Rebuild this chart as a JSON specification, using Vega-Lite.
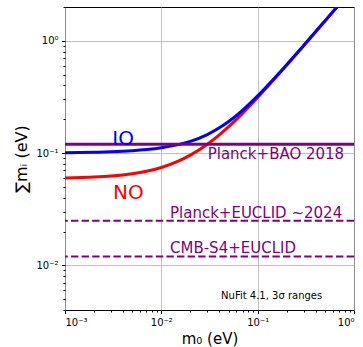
{
  "$schema": "https://vega.github.io/schema/vega-lite/v6.json",
  "autosize": "none",
  "width": 289,
  "height": 303,
  "padding": {"left": 65, "top": 7, "right": 9, "bottom": 37},
  "background": "white",
  "config": {
    "view": {"stroke": "black", "strokeWidth": 1},
    "font": "DejaVu Sans",
    "axis": {
      "labelFont": "DejaVu Sans", "labelFontSize": 10, "labelColor": "black",
      "titleFont": "DejaVu Sans", "titleFontWeight": "normal", "titleColor": "black",
      "domain": false, "tickColor": "black", "gridColor": "#b0b0b0", "gridWidth": 0.8
    }
  },
  "layer": [
    {
      "data": {"name": "curves", "values": [
        {"m0": 0.001, "sum": 0.0599, "ordering": "NO"},
        {"m0": 0.002, "sum": 0.06107, "ordering": "NO"},
        {"m0": 0.003, "sum": 0.0624, "ordering": "NO"},
        {"m0": 0.005, "sum": 0.0654, "ordering": "NO"},
        {"m0": 0.007, "sum": 0.0688, "ordering": "NO"},
        {"m0": 0.01, "sum": 0.0744, "ordering": "NO"},
        {"m0": 0.015, "sum": 0.0847, "ordering": "NO"},
        {"m0": 0.02, "sum": 0.0958, "ordering": "NO"},
        {"m0": 0.03, "sum": 0.1197, "ordering": "NO"},
        {"m0": 0.04, "sum": 0.1451, "ordering": "NO"},
        {"m0": 0.05, "sum": 0.1716, "ordering": "NO"},
        {"m0": 0.07, "sum": 0.2267, "ordering": "NO"},
        {"m0": 0.1, "sum": 0.3123, "ordering": "NO"},
        {"m0": 0.15, "sum": 0.4584, "ordering": "NO"},
        {"m0": 0.2, "sum": 0.6064, "ordering": "NO"},
        {"m0": 0.3, "sum": 0.9043, "ordering": "NO"},
        {"m0": 0.5, "sum": 1.5026, "ordering": "NO"},
        {"m0": 0.7, "sum": 2.1019, "ordering": "NO"},
        {"m0": 1.0, "sum": 3.0013, "ordering": "NO"},
        {"m0": 0.001, "sum": 0.10056, "ordering": "IO"},
        {"m0": 0.002, "sum": 0.10162, "ordering": "IO"},
        {"m0": 0.003, "sum": 0.10272, "ordering": "IO"},
        {"m0": 0.005, "sum": 0.10504, "ordering": "IO"},
        {"m0": 0.007, "sum": 0.10752, "ordering": "IO"},
        {"m0": 0.01, "sum": 0.11153, "ordering": "IO"},
        {"m0": 0.015, "sum": 0.11896, "ordering": "IO"},
        {"m0": 0.02, "sum": 0.12727, "ordering": "IO"},
        {"m0": 0.03, "sum": 0.14622, "ordering": "IO"},
        {"m0": 0.04, "sum": 0.1677, "ordering": "IO"},
        {"m0": 0.05, "sum": 0.1911, "ordering": "IO"},
        {"m0": 0.07, "sum": 0.24177, "ordering": "IO"},
        {"m0": 0.1, "sum": 0.3234, "ordering": "IO"},
        {"m0": 0.15, "sum": 0.46608, "ordering": "IO"},
        {"m0": 0.2, "sum": 0.6122, "ordering": "IO"},
        {"m0": 0.3, "sum": 0.9082, "ordering": "IO"},
        {"m0": 0.5, "sum": 1.50494, "ordering": "IO"},
        {"m0": 0.7, "sum": 2.1035, "ordering": "IO"},
        {"m0": 1.0, "sum": 3.0025, "ordering": "IO"}
      ]},
      "mark": {"type": "line", "strokeWidth": 3, "clip": true, "interpolate": "monotone"},
      "encoding": {
        "x": {"field": "m0", "type": "quantitative",
          "scale": {"type": "log", "domain": [0.001, 1], "nice": false},
          "axis": {
            "title": "m₀ (eV)", "titleFontSize": 15, "titlePadding": 4,
            "values": [0.001,0.002,0.003,0.004,0.005,0.006,0.007,0.008,0.009,0.01,0.02,0.03,0.04,0.05,0.06,0.07,0.08,0.09,0.1,0.2,0.3,0.4,0.5,0.6,0.7,0.8,0.9,1],
            "labelExpr": "datum.value == 0.001 ? '10⁻³' : datum.value == 0.01 ? '10⁻²' : datum.value == 0.1 ? '10⁻¹' : datum.value == 1 ? '10⁰' : ''",
            "labelPadding": 3.5,
            "tickSize": {"condition": {"test": "indexof([0.001,0.01,0.1,1], datum.value) >= 0", "value": 3.5}, "value": 2},
            "gridOpacity": {"condition": {"test": "indexof([0.001,0.01,0.1,1], datum.value) >= 0", "value": 1}, "value": 0}
          }},
        "y": {"field": "sum", "type": "quantitative",
          "scale": {"type": "log", "domain": [0.004, 2], "nice": false},
          "axis": {
            "title": "∑mᵢ (eV)", "titleFontSize": 16, "titlePadding": 6,
            "values": [0.004,0.005,0.006,0.007,0.008,0.009,0.01,0.02,0.03,0.04,0.05,0.06,0.07,0.08,0.09,0.1,0.2,0.3,0.4,0.5,0.6,0.7,0.8,0.9,1,2],
            "labelExpr": "datum.value == 0.01 ? '10⁻²' : datum.value == 0.1 ? '10⁻¹' : datum.value == 1 ? '10⁰' : ''",
            "labelPadding": 3.5,
            "tickSize": {"condition": {"test": "indexof([0.01,0.1,1], datum.value) >= 0", "value": 3.5}, "value": 2},
            "gridOpacity": {"condition": {"test": "indexof([0.01,0.1,1], datum.value) >= 0", "value": 1}, "value": 0}
          }},
        "color": {"field": "ordering", "type": "nominal",
          "scale": {"domain": ["NO", "IO"], "range": ["#ff0000", "#0000ff"]}, "legend": null}
      }
    },
    {
      "data": {"values": [
        {"bound": "Planck+EUCLID ~2024", "value": 0.025},
        {"bound": "CMB-S4+EUCLID", "value": 0.012}
      ]},
      "mark": {"type": "rule", "color": "#800080", "strokeWidth": 2, "strokeDash": [7.4, 3.2]},
      "encoding": {"y": {"field": "value", "type": "quantitative"}}
    },
    {
      "data": {"values": [{"bound": "Planck+BAO 2018", "value": 0.12}]},
      "mark": {"type": "rule", "color": "#800080", "strokeWidth": 3},
      "encoding": {"y": {"field": "value", "type": "quantitative"}}
    },
    {
      "data": {"values": [{"label": "IO", "m0": 0.0031, "sum": 0.119}]},
      "mark": {"type": "text", "align": "left", "baseline": "alphabetic", "fontSize": 20, "color": "#0000ff"},
      "encoding": {"x": {"field": "m0", "type": "quantitative"}, "y": {"field": "sum", "type": "quantitative"}, "text": {"field": "label"}}
    },
    {
      "data": {"values": [{"label": "NO", "m0": 0.00315, "sum": 0.0392}]},
      "mark": {"type": "text", "align": "left", "baseline": "alphabetic", "fontSize": 20, "color": "#ff0000"},
      "encoding": {"x": {"field": "m0", "type": "quantitative"}, "y": {"field": "sum", "type": "quantitative"}, "text": {"field": "label"}}
    },
    {
      "data": {"values": [
        {"label": "Planck+BAO 2018", "m0": 0.0303, "sum": 0.0883},
        {"label": "Planck+EUCLID ~2024", "m0": 0.0123, "sum": 0.0264},
        {"label": "CMB-S4+EUCLID", "m0": 0.0123, "sum": 0.01289}
      ]},
      "mark": {"type": "text", "align": "left", "baseline": "alphabetic", "fontSize": 15, "color": "#800080"},
      "encoding": {"x": {"field": "m0", "type": "quantitative"}, "y": {"field": "sum", "type": "quantitative"}, "text": {"field": "label"}}
    },
    {
      "data": {"values": [{"label": "NuFit 4.1, 3σ ranges", "m0": 0.0417, "sum": 0.00505}]},
      "mark": {"type": "text", "align": "left", "baseline": "alphabetic", "fontSize": 10, "color": "black"},
      "encoding": {"x": {"field": "m0", "type": "quantitative"}, "y": {"field": "sum", "type": "quantitative"}, "text": {"field": "label"}}
    }
  ]
}
